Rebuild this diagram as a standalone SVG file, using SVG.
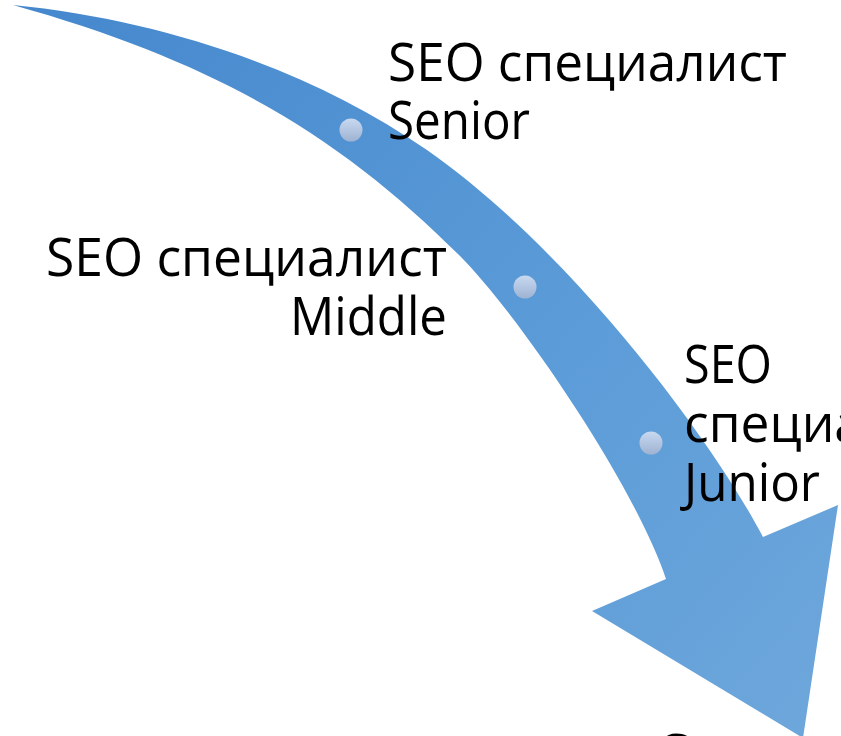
<svg xmlns="http://www.w3.org/2000/svg" width="841" height="736" viewBox="0 0 841 736">
<style>
.lbl{font-family:"Open Sans","Noto Sans","Liberation Sans",sans-serif;font-size:53px;fill:#000}
.dot{fill:url(#dotg)}
</style>
<defs>
<linearGradient id="arrowg" gradientUnits="userSpaceOnUse" x1="0" y1="0" x2="841" y2="736">
<stop offset="0" stop-color="#4587cd"/>
<stop offset="0.6" stop-color="#5c9cd8"/>
<stop offset="1" stop-color="#6ea7db"/>
</linearGradient>
<linearGradient id="dotg" x1="0" y1="0" x2="0" y2="1">
<stop offset="0" stop-color="#c8d9f0"/>
<stop offset="1" stop-color="#9eb2d2"/>
</linearGradient>
</defs>
<g id="connectors">
<path id="arrow" fill="url(#arrowg)" d="M13,5 C163,20 312,70 427,150 C566,247 707,431 763,537 L838,505 L803,738 L592,611 L666,579 C634.4,484 516.6,312.6 460,256 C342,138 220,63 13,5 Z"/>
</g>
<g id="node-senior">
<circle class="dot" cx="351" cy="130" r="11.5"/>
<text class="lbl" x="388" y="81" textLength="399" lengthAdjust="spacingAndGlyphs">SEO специалист</text>
<text class="lbl" x="388" y="139" textLength="142" lengthAdjust="spacingAndGlyphs">Senior</text>
</g>
<g id="node-middle">
<circle class="dot" cx="525" cy="287" r="11.5"/>
<text class="lbl" x="46" y="276" textLength="401" lengthAdjust="spacingAndGlyphs">SEO специалист</text>
<text class="lbl" x="290" y="335" textLength="157" lengthAdjust="spacingAndGlyphs">Middle</text>
</g>
<g id="node-junior">
<circle class="dot" cx="651" cy="443" r="11.5"/>
<text class="lbl" x="684" y="383" textLength="88" lengthAdjust="spacingAndGlyphs">SEO</text>
<text class="lbl" x="684" y="442" textLength="290" lengthAdjust="spacingAndGlyphs">специалист</text>
<text class="lbl" x="684" y="501" textLength="136" lengthAdjust="spacingAndGlyphs">Junior</text>
</g>
<g id="node-next">
<text class="lbl" x="655" y="772">С</text>
</g>
</svg>
